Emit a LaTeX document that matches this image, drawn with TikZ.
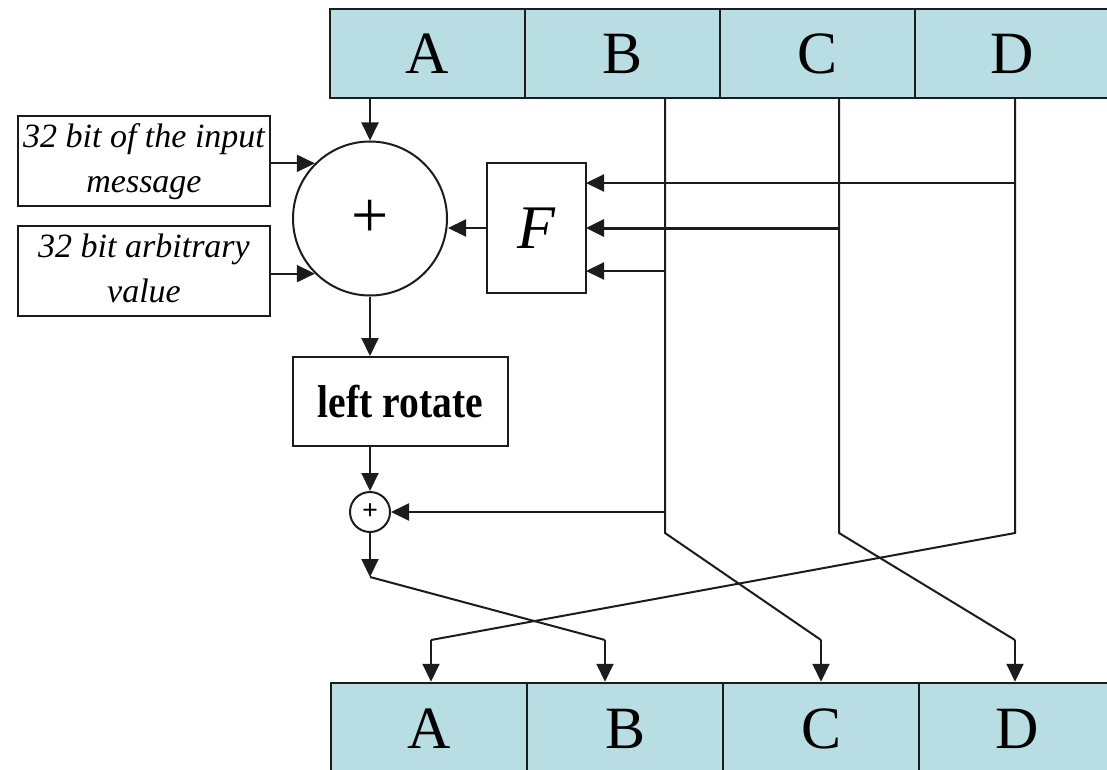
\documentclass[tikz,border=0pt]{standalone}
\usepackage{fontspec}
\setmainfont{Liberation Serif}
\usetikzlibrary{arrows.meta,calc}
\definecolor{regfill}{RGB}{184,221,226}
\definecolor{linec}{RGB}{28,28,28}
\begin{document}
\begin{tikzpicture}[x=1pt,y=-1pt,
  ln/.style={draw=linec,line width=2pt},
  arr/.style={ln,-{Triangle[length=18pt,width=17pt]}},
  cell/.style={draw=linec,fill=regfill,line width=2.5pt,minimum height=89pt,inner sep=0pt,
    font=\fontsize{60}{60}\selectfont},
  inbox/.style={draw=linec,line width=2pt,minimum width=252pt,minimum height=86pt,inner sep=0pt,
    align=center,font=\fontsize{34}{45}\selectfont\itshape},
  fbox/.style={draw=linec,line width=2pt,minimum width=99pt,minimum height=130pt,inner sep=0pt,
    font=\fontsize{62}{62}\selectfont\itshape},
  lrbox/.style={draw=linec,line width=2pt,minimum width=215pt,minimum height=89pt,inner sep=0pt,
    font=\fontsize{46}{46}\selectfont\bfseries},
  bigsum/.style={circle,draw=linec,line width=2pt,minimum size=154pt,inner sep=0pt,
    font=\fontsize{66}{66}\selectfont},
  smallsum/.style={circle,draw=linec,line width=2pt,minimum size=40pt,inner sep=0pt,
    font=\fontsize{28}{28}\selectfont\bfseries}]
\useasboundingbox (0,0) rectangle (1107,770);
\fill[white] (0,0) rectangle (1107,770);

% top register
\node[cell,minimum width=195pt] (tA) at (427.5,53.5) {A};
\node[cell,minimum width=195pt] (tB) at (622.5,53.5) {B};
\node[cell,minimum width=195pt] (tC) at (817.5,53.5) {C};
\node[cell,minimum width=195pt] (tD) at (1012.5,53.5) {D};

% bottom register
\node[cell,minimum width=196pt,minimum height=92pt] (bA) at (429,729) {A};
\node[cell,minimum width=196pt,minimum height=92pt] (bB) at (625,729) {B};
\node[cell,minimum width=196pt,minimum height=92pt] (bC) at (821,729) {C};
\node[cell,minimum width=196pt,minimum height=92pt] (bD) at (1017,729) {D};

% processing nodes
\node[bigsum] (circ) at (370,218.5) {\raisebox{-4pt}{+}};
\node[inbox] (in1) at (144,161) {\raisebox{-3pt}{\begin{tabular}{@{}c@{}}32 bit of the input\\message\end{tabular}}};
\node[inbox] (in2) at (144,271) {\raisebox{-3pt}{\begin{tabular}{@{}c@{}}32 bit arbitrary\\value\end{tabular}}};
\node[fbox] (F) at (536.5,228) {F};
\node[lrbox] (lr) at (400.5,401.5) {\scalebox{0.86}[1]{left rotate}};
\node[smallsum] (sc) at (370,512) {\raisebox{-2pt}{+}};

% coordinates of the B, C, D wires
\coordinate (bTop) at (665,98);
\coordinate (bBend) at (665,533);
\coordinate (bEnd) at (821,640);
\coordinate (cTop) at (839,98);
\coordinate (cBend) at (839,533);
\coordinate (cEnd) at (1015,640);
\coordinate (dTop) at (1015,98);
\coordinate (dBend) at (1015,533);
\coordinate (dEnd) at (431,640);
\coordinate (sOut) at (370,577);
\coordinate (sEnd) at (605,640);
\coordinate (fD) at (586,183);
\coordinate (fC) at (586,228);
\coordinate (fB) at (586,271);
\coordinate (scIn) at (665,512);

% A path
\draw[arr] (circ.north |- tA.south) -- (circ.north);
\draw[arr] (in1.east |- circ.135) -- (circ.135);
\draw[arr] (in2.east |- circ.225) -- (circ.225);
\draw[arr] (F.west) -- (circ.east |- F.west);
\draw[arr] (circ.south) -- (circ.south |- lr.north);
\draw[arr] (sc.north |- lr.south) -- (sc.north);
\draw[arr] (scIn) -- (sc.east);
\draw[arr] (sc.south) -- (sOut);
\draw[ln] (sOut) -- (sEnd);
\draw[arr] (sEnd) -- (sEnd |- bB.north);

% B, C, D wires
\draw[ln] (bTop) -- (bBend) -- (bEnd);
\draw[arr] (bEnd) -- (bEnd |- bC.north);
\draw[ln] (cTop) -- (cBend) -- (cEnd);
\draw[arr] (cEnd) -- (cEnd |- bD.north);
\draw[ln] (dTop) -- (dBend) -- (dEnd);
\draw[arr] (dEnd) -- (dEnd |- bA.north);

% inputs of F
\draw[arr] (dTop |- fD) -- (fD);
\draw[arr,line width=3pt] (cTop |- fC) -- (fC);
\draw[arr] (bTop |- fB) -- (fB);
\end{tikzpicture}
\end{document}
